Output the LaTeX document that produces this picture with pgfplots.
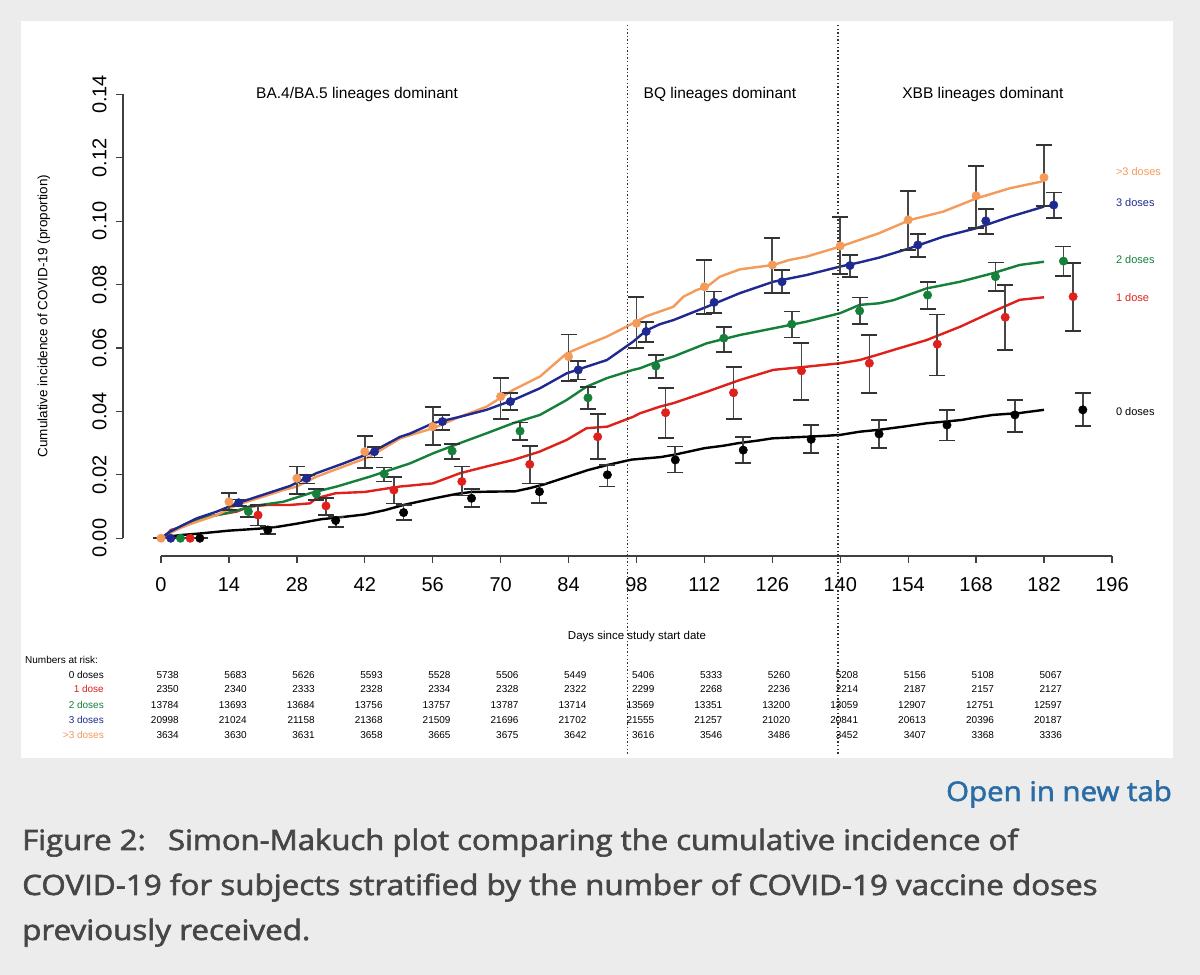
\documentclass[border=0pt]{standalone}
\usepackage{fontspec}
\setmainfont{Liberation Sans}
\newfontfamily\capfont{Open Sans}[FakeBold=2.0]
\usepackage{pgfplots}
\usepackage{pgfplotstable}
\pgfplotsset{compat=1.18}
\definecolor{bgc}{HTML}{ECECEC}
\definecolor{cA}{HTML}{000000}
\definecolor{cB}{HTML}{E0201B}
\definecolor{cC}{HTML}{14803A}
\definecolor{cD}{HTML}{1F2A90}
\definecolor{cE}{HTML}{F49A5A}
\definecolor{linkblue}{HTML}{2A6DA6}
\definecolor{captxt}{HTML}{464646}

% points: day, estimate, error plus, error minus
\pgfplotstableread{
x y ep em
8 0 0 0
22 0.0026 0.0011 0.0012
36 0.0056 0.0012 0.0021
50 0.0081 0.0024 0.0023
64 0.0126 0.0029 0.0028
78 0.0147 0.0026 0.0035
92 0.0200 0.0031 0.0037
106 0.0247 0.0042 0.0040
120 0.0278 0.0042 0.0041
134 0.0312 0.0045 0.0044
148 0.0329 0.0044 0.0045
162 0.0357 0.0048 0.0049
176 0.0389 0.0047 0.0053
190 0.0405 0.0052 0.0051
}\ptsA
\pgfplotstableread{
x y ep em
6 0 0 0
20 0.0073 0.0032 0.0033
34 0.0102 0.0024 0.0029
48 0.0152 0.0042 0.0042
62 0.0179 0.0047 0.0044
76 0.0233 0.0058 0.0060
90 0.0320 0.0071 0.0071
104 0.0396 0.0077 0.0079
118 0.0459 0.0082 0.0084
132 0.0528 0.0087 0.0092
146 0.0552 0.0089 0.0095
160 0.0612 0.0094 0.0099
174 0.0697 0.0102 0.0103
188 0.0762 0.0105 0.0108
}\ptsB
\pgfplotstableread{
x y ep em
4 0 0 0
18 0.0084 0.0016 0.0016
32 0.0140 0.0015 0.0019
46 0.0203 0.0020 0.0024
60 0.0275 0.0022 0.0026
74 0.0338 0.0027 0.0028
88 0.0443 0.0035 0.0036
102 0.0543 0.0035 0.0038
116 0.0631 0.0036 0.0043
130 0.0675 0.0040 0.0042
144 0.0717 0.0042 0.0042
158 0.0767 0.0042 0.0044
172 0.0825 0.0045 0.0045
186 0.0874 0.0046 0.0046
}\ptsC
\pgfplotstableread{
x y ep em
2 0 0 0
16 0.0112 0.0010 0.0010
30 0.0189 0.0011 0.0016
44 0.0273 0.0014 0.0018
58 0.0368 0.0021 0.0026
72 0.0431 0.0026 0.0026
86 0.0531 0.0029 0.0030
100 0.0652 0.0031 0.0032
114 0.0744 0.0034 0.0034
128 0.0809 0.0037 0.0036
142 0.0860 0.0033 0.0037
156 0.0925 0.0035 0.0039
170 0.1001 0.0037 0.0041
184 0.1051 0.0039 0.0042
}\ptsD
\pgfplotstableread{
x y ep em
0 0 0 0
14 0.0115 0.0027 0.0026
28 0.0189 0.0037 0.0049
42 0.0273 0.0050 0.0052
56 0.0352 0.0061 0.0058
70 0.0447 0.0059 0.0072
84 0.0573 0.0070 0.0077
98 0.0678 0.0082 0.0077
112 0.0793 0.0085 0.0086
126 0.0862 0.0084 0.0089
140 0.0922 0.0092 0.0089
154 0.1004 0.0092 0.0095
168 0.1080 0.0094 0.0102
182 0.1138 0.0102 0.0090
}\ptsE

\def\rowA{5738,5683,5626,5593,5528,5506,5449,5406,5333,5260,5208,5156,5108,5067}
\def\rowB{2350,2340,2333,2328,2334,2328,2322,2299,2268,2236,2214,2187,2157,2127}
\def\rowC{13784,13693,13684,13756,13757,13787,13714,13569,13351,13200,13059,12907,12751,12597}
\def\rowD{20998,21024,21158,21368,21509,21696,21702,21555,21257,21020,20841,20613,20396,20187}
\def\rowE{3634,3630,3631,3658,3665,3675,3642,3616,3546,3486,3452,3407,3368,3336}

\begin{document}
\begin{tikzpicture}[x=1pt,y=1pt]
\fill[bgc] (0,0) rectangle (1200,975);
\fill[white] (21,217) rectangle (1173,954);
\begin{axis}[
  at={(123pt,419pt)}, anchor=south west, scale only axis,
  width=1027pt, height=479.4pt,
  xmin=-7.84, xmax=203.84, ymin=-0.0056, ymax=0.1456,
  axis line style={draw=none},
  clip=false,
  xtick={0,14,...,196},
  ytick={0,0.02,0.04,0.06,0.08,0.10,0.12,0.14},
  scaled y ticks=false,
  /pgf/number format/assume math mode=true,
  y tick label style={/pgf/number format/.cd, fixed, fixed zerofill, precision=2, /tikz/.cd, rotate=90, anchor=south, font=\fontsize{20}{24}\selectfont},
  x tick label style={font=\fontsize{20}{24}\selectfont},
  yticklabel shift=6pt, xticklabel shift=11pt,
  tick align=outside, xtick pos=bottom, ytick pos=left,
  major tick length=7pt,
  tick style={line width=1.3pt, black!75},
]
\draw[line width=1.3pt, black!75] (axis cs:0,-0.0056) -- (axis cs:196,-0.0056);
\draw[line width=1.3pt, black!75] (axis cs:-7.84,0) -- (axis cs:-7.84,0.14);

% cumulative incidence curves
\addplot[cA, line width=2.4pt, line join=round] coordinates {(0,0) (1,0.0004) (4,0.0010) (8,0.0015) (14,0.0024) (20,0.0030) (24,0.0036) (28,0.0046) (33,0.0060) (38,0.0068) (42,0.0075) (46,0.0088) (50,0.0105) (53,0.0115) (57,0.0128) (61,0.0140) (64,0.0146) (68,0.0147) (73,0.0148) (76,0.0158) (79,0.0170) (82,0.0185) (85,0.0200) (88,0.0215) (92,0.0231) (97,0.0248) (103,0.0256) (106,0.0264) (109,0.0274) (112,0.0284) (116,0.0292) (119,0.0300) (123,0.0308) (126,0.0315) (130,0.0318) (133,0.0320) (137,0.0323) (140,0.0326) (144,0.0336) (148,0.0342) (153,0.0352) (158,0.0363) (161,0.0367) (165,0.0373) (168,0.0381) (171.5,0.0389) (177,0.0395) (182,0.0405)};
\addplot[cB, line width=2.4pt, line join=round] coordinates {(0,0) (1,0.0008) (2,0.0026) (4.6,0.0037) (8,0.0063) (11.5,0.0073) (15.6,0.0084) (18.3,0.0100) (22,0.0105) (26.6,0.0105) (30.7,0.0110) (32,0.0126) (36,0.0142) (42,0.0146) (47,0.0158) (49.2,0.0163) (51.3,0.0166) (56,0.0173) (59,0.0190) (61.6,0.0205) (67,0.0226) (72.6,0.0247) (78,0.0273) (83.6,0.0310) (87.7,0.0347) (92,0.0352) (97.3,0.0383) (98.7,0.0394) (102.8,0.0415) (105.6,0.0426) (112.5,0.0462) (119.3,0.0499) (126.2,0.0531) (133,0.0541) (140,0.0552) (144,0.0562) (148,0.0580) (151,0.0594) (157.8,0.0625) (164.7,0.0667) (171.5,0.0715) (177,0.0752) (182,0.0760)};
\addplot[cC, line width=2.4pt, line join=round] coordinates {(0,0) (1.9,0.0021) (4.6,0.0042) (8,0.0063) (11.5,0.0073) (14.9,0.0084) (18.3,0.0100) (25.2,0.0115) (30.7,0.0142) (36.2,0.0163) (43,0.0194) (49.3,0.0226) (51.3,0.0236) (56.1,0.0268) (61.6,0.0300) (67.1,0.0331) (72.6,0.0363) (78.1,0.0389) (83.6,0.0436) (87.7,0.0478) (91.9,0.0505) (97.3,0.0531) (98.7,0.0536) (102.8,0.0560) (105.6,0.0573) (112.5,0.0615) (119.3,0.0641) (126.2,0.0662) (133,0.0683) (140,0.0710) (144,0.0736) (148,0.0741) (151,0.0751) (157.8,0.0788) (164.7,0.0809) (171.5,0.0836) (177,0.0862) (182,0.0872)};
\addplot[cE, line width=2.4pt, line join=round] coordinates {(0,0) (1,0.0010) (4.6,0.0037) (8,0.0055) (11.5,0.0073) (15.6,0.0105) (21,0.0131) (25.2,0.0152) (28,0.0163) (32,0.0194) (37.6,0.0226) (43,0.0257) (49.3,0.0315) (51.3,0.0325) (56.1,0.0347) (61.6,0.0383) (67.1,0.0415) (72.6,0.0468) (78.1,0.0510) (83.6,0.0583) (87.7,0.0610) (91.9,0.0636) (97.3,0.0678) (100,0.0700) (102.8,0.0715) (105.6,0.0730) (107.7,0.0762) (110.4,0.0783) (112.5,0.0793) (115.2,0.0825) (119.3,0.0848) (126.2,0.0862) (129.6,0.0878) (133,0.0888) (140,0.0920) (144,0.0941) (148,0.0962) (154.4,0.1004) (161.2,0.1030) (168.1,0.1072) (175,0.1104) (181.5,0.1125) (182,0.1140)};
\addplot[cD, line width=2.4pt, line join=round] coordinates {(0,0) (1.9,0.0021) (4.6,0.0042) (7.4,0.0063) (11.5,0.0084) (15.6,0.0110) (21,0.0137) (26.6,0.0165) (32,0.0205) (37.6,0.0236) (43,0.0268) (49.3,0.0320) (51.3,0.0330) (56.1,0.0363) (61.6,0.0383) (67.1,0.0405) (72.6,0.0436) (78.1,0.0473) (83.6,0.0520) (87.7,0.0541) (91.9,0.0562) (97.3,0.0620) (100,0.0655) (102.8,0.0675) (105.6,0.0688) (112.5,0.0730) (119.3,0.0773) (126.2,0.0809) (133,0.0830) (140,0.0857) (144,0.0870) (148,0.0885) (154.4,0.0915) (161.2,0.0951) (168.1,0.0978) (175,0.1014) (182,0.1046)};

% point estimates with confidence intervals
\pgfplotsset{ptstyle/.style={only marks, mark=*, mark size=4.2pt, mark options={draw=#1, fill=#1, line width=0.5pt},
  error bars/.cd, y dir=both, y explicit,
  error bar style={line width=1.7pt, black!72},
  error mark options={rotate=90, line width=1.7pt, black!80, mark size=8pt}}}
\addplot[ptstyle=cA] table[x=x, y=y, y error plus=ep, y error minus=em] {\ptsA};
\addplot[ptstyle=cB] table[x=x, y=y, y error plus=ep, y error minus=em] {\ptsB};
\addplot[ptstyle=cC] table[x=x, y=y, y error plus=ep, y error minus=em] {\ptsC};
\addplot[ptstyle=cD] table[x=x, y=y, y error plus=ep, y error minus=em] {\ptsD};
\addplot[ptstyle=cE] table[x=x, y=y, y error plus=ep, y error minus=em] {\ptsE};

% variant periods
\draw[black!80, line width=1.4pt, dash pattern=on 1.4pt off 2.2pt] (axis cs:96.2,0.1619) -- (axis cs:96.2,-0.0683);
\draw[black!80, line width=1.4pt, dash pattern=on 1.4pt off 2.2pt] (axis cs:139.5,0.1619) -- (axis cs:139.5,-0.0683);
\node[font=\fontsize{15.5}{18}\selectfont] at (axis cs:40.4,0.1398) {BA.4/BA.5 lineages dominant};
\node[font=\fontsize{15.5}{18}\selectfont] at (axis cs:115.2,0.1398) {BQ lineages dominant};
\node[font=\fontsize{15.5}{18}\selectfont] at (axis cs:169.4,0.1398) {XBB lineages dominant};

% series labels
\node[anchor=mid west, inner sep=0, font=\fontsize{11}{13}\selectfont, text=cE] at (axis cs:196.8,0.1153) {>3 doses};
\node[anchor=mid west, inner sep=0, font=\fontsize{11}{13}\selectfont, text=cD] at (axis cs:196.8,0.1054) {3 doses};
\node[anchor=mid west, inner sep=0, font=\fontsize{11}{13}\selectfont, text=cC] at (axis cs:196.8,0.0875) {2 doses};
\node[anchor=mid west, inner sep=0, font=\fontsize{11}{13}\selectfont, text=cB] at (axis cs:196.8,0.0755) {1 dose};
\node[anchor=mid west, inner sep=0, font=\fontsize{11}{13}\selectfont, text=cA] at (axis cs:196.8,0.0396) {0 doses};
\end{axis}

% axis titles
\node[font=\fontsize{11.5}{14}\selectfont] at (637,338) {Days since study start date};
\node[rotate=90, font=\fontsize{13.5}{16}\selectfont] at (44,659) {Cumulative incidence of COVID-19 (proportion)};

% numbers at risk
\node[anchor=mid west, inner sep=0, font=\fontsize{10}{12}\selectfont] at (25,314) {Numbers at risk:};
\node[anchor=mid east, inner sep=0, font=\fontsize{10}{12}\selectfont, text=cA] at (104,299) {0 doses};
\node[anchor=mid east, inner sep=0, font=\fontsize{10}{12}\selectfont, text=cB] at (104,285) {1 dose};
\node[anchor=mid east, inner sep=0, font=\fontsize{10}{12}\selectfont, text=cC] at (104,269) {2 doses};
\node[anchor=mid east, inner sep=0, font=\fontsize{10}{12}\selectfont, text=cD] at (104,254) {3 doses};
\node[anchor=mid east, inner sep=0, font=\fontsize{10}{12}\selectfont, text=cE] at (104,239) {>3 doses};
\foreach \v [count=\i from 0] in \rowA {\node[anchor=mid east, inner sep=0, font=\fontsize{10}{12}\selectfont] at ({179+67.93*\i},299) {\v};}
\foreach \v [count=\i from 0] in \rowB {\node[anchor=mid east, inner sep=0, font=\fontsize{10}{12}\selectfont] at ({179+67.93*\i},285) {\v};}
\foreach \v [count=\i from 0] in \rowC {\node[anchor=mid east, inner sep=0, font=\fontsize{10}{12}\selectfont] at ({179+67.93*\i},269) {\v};}
\foreach \v [count=\i from 0] in \rowD {\node[anchor=mid east, inner sep=0, font=\fontsize{10}{12}\selectfont] at ({179+67.93*\i},254) {\v};}
\foreach \v [count=\i from 0] in \rowE {\node[anchor=mid east, inner sep=0, font=\fontsize{10}{12}\selectfont] at ({179+67.93*\i},239) {\v};}

% page caption
\node[anchor=base east, inner sep=0, font=\capfont\fontsize{27}{32}\selectfont, text=linkblue] at (1172,174) {\scalebox{1.09}[1]{Open in new tab}};
\node[anchor=base west, inner sep=0, font=\capfont\fontsize{28}{34}\selectfont, text=captxt] at (22,125) {\scalebox{1.11}[1]{Figure 2:\hspace{20pt}Simon-Makuch plot comparing the cumulative incidence of}};
\node[anchor=base west, inner sep=0, font=\capfont\fontsize{28}{34}\selectfont, text=captxt] at (22,80) {\scalebox{1.12}[1]{COVID-19 for subjects stratified by the number of COVID-19 vaccine doses}};
\node[anchor=base west, inner sep=0, font=\capfont\fontsize{28}{34}\selectfont, text=captxt] at (22,35) {\scalebox{1.12}[1]{previously received.}};
\end{tikzpicture}
\end{document}
